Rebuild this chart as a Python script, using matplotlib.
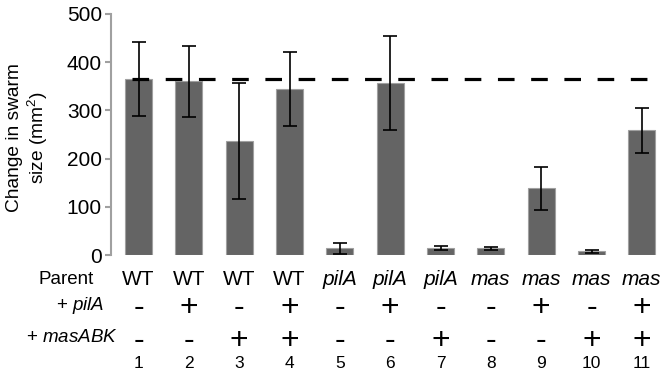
import numpy as np
import matplotlib.pyplot as plt

plt.rcParams['font.family'] = ['Liberation Sans', 'DejaVu Sans']
plt.rcParams['mathtext.fontset'] = 'custom'
plt.rcParams['mathtext.rm'] = 'Liberation Sans'
plt.rcParams['mathtext.it'] = 'Liberation Sans:italic'

lanes = ["1", "2", "3", "4", "5", "6", "7", "8", "9", "10", "11"]
parents = ["WT", "WT", "WT", "WT", "pilA", "pilA", "pilA", "mas", "mas", "mas", "mas"]
plus_pila = ["-", "+", "-", "+", "-", "+", "-", "-", "+", "-", "+"]
plus_masabk = ["-", "-", "+", "+", "-", "-", "+", "-", "-", "+", "+"]
swarm = [365, 360, 236, 345, 14, 357, 14, 14, 138, 8, 259]
err = [77, 74, 120, 77, 11, 97, 4, 3, 45, 3, 47]
wt_level = 366

fig = plt.figure(figsize=(6.72, 3.77), dpi=100)
ax = fig.add_axes([0.1652, 0.3236, 0.8274, 0.6393])

x = np.arange(1, len(swarm) + 1)
ax.bar(x, swarm, width=0.54, color='#646464', edgecolor='#a0a0a0', linewidth=0.8, zorder=2)
ax.errorbar(x, swarm, yerr=err, fmt='none', ecolor='black', elinewidth=1.2,
            capsize=5, capthick=1.2, zorder=3)
ax.hlines(wt_level, 0.87, 11.12, colors='black', linewidth=2.3,
          linestyles=(0, (5.2, 5.2)), zorder=4)

ax.set_xlim(0.453, 11.5)
ax.set_ylim(0, 500)
ax.set_yticks([0, 100, 200, 300, 400, 500])
ax.tick_params(axis='y', labelsize=15, length=4.5, width=1.5, color='#a0a0a0', pad=2)
ax.set_xticks([])
for s in ['top', 'right', 'bottom']:
    ax.spines[s].set_visible(False)
ax.spines['left'].set_color('#a0a0a0')
ax.spines['left'].set_linewidth(1.5)

fig.text(0.042, 1 - 138 / 377, "Change in swarm\nsize (mm$^2$)", rotation=90, ha='center',
         va='center', multialignment='center', fontsize=13.8, linespacing=1.15)

# table under the bars
tr = ax.get_xaxis_transform()
for i in range(len(lanes)):
    style = 'normal' if parents[i] == "WT" else 'italic'
    ax.text(x[i], -0.10, parents[i], transform=tr, ha='center', va='center',
            fontsize=15, fontstyle=style)
    ax.text(x[i], -0.255, plus_pila[i], transform=tr, ha='center', va='baseline',
            fontsize=23)
    ax.text(x[i], -0.388, plus_masabk[i], transform=tr, ha='center', va='baseline',
            fontsize=23)
    ax.text(x[i], -0.452, lanes[i], transform=tr, ha='center', va='center', fontsize=12.5)

fig.text(0.140, 1 - 279 / 377, "Parent", ha='right', va='center', fontsize=13.5)
fig.text(0.155, 1 - 306 / 377, "+ $\\mathit{pilA}$", ha='right', va='center', fontsize=13.5)
fig.text(0.176, 1 - 338 / 377, "+ $\\mathit{masABK}$", ha='right', va='center', fontsize=13.5)

fig.savefig("out.png", dpi=100)
